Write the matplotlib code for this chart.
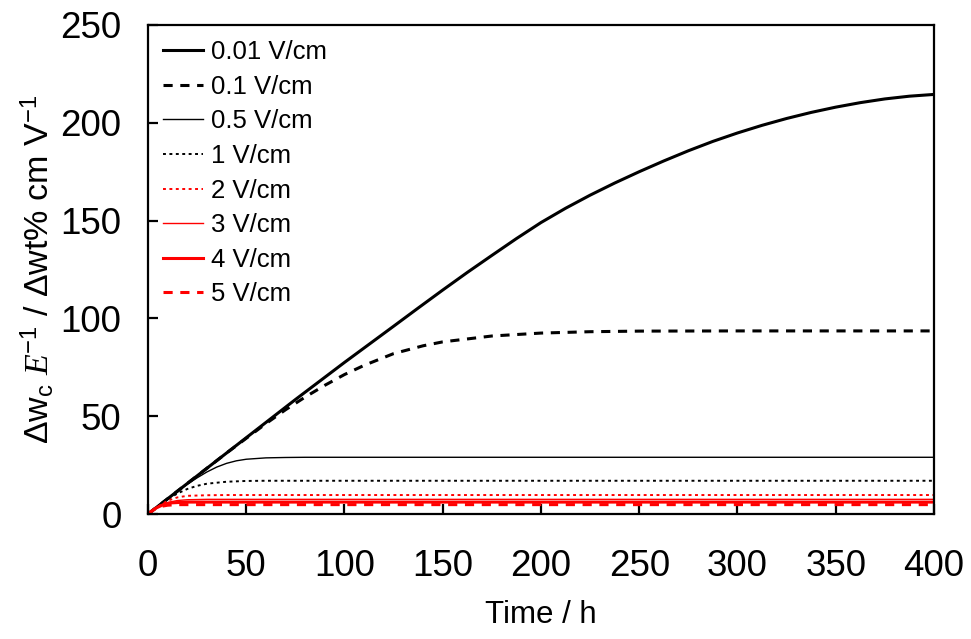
import matplotlib
matplotlib.use("Agg")
import matplotlib.pyplot as plt

# =========================
# DATA
# =========================
t_001 = [0, 25, 50, 75, 100, 125, 137.5, 150, 162.5, 175, 187.5, 200, 212.5, 225, 237.5, 250,
         262.5, 275, 287.5, 300, 312.5, 325, 337.5, 350, 362.5, 375, 387.5, 400]
w_001 = [0, 19.5, 39, 58.5, 77.5, 96, 105.3, 114.5, 123.5, 132.2, 140.8, 149, 156.3, 163, 169.2, 175,
         180.5, 185.7, 190.5, 194.8, 198.7, 202.2, 205.3, 208, 210.3, 212.2, 213.6, 214.5]

t_01 = [0, 20, 40, 60, 70, 80, 90, 100, 110, 125, 140, 150, 175, 200, 225, 250, 300, 350, 400]
w_01 = [0, 15.6, 31.2, 46.2, 53.3, 59.8, 65.8, 71.3, 76, 82, 86, 88, 91, 92.5, 93.2, 93.5, 93.6, 93.6, 93.6]

t_05 = [0, 5, 10, 15, 20, 25, 30, 35, 40, 45, 50, 60, 70, 80, 100, 400]
w_05 = [0, 3.9, 7.8, 11.6, 15.2, 18.5, 21.5, 24, 25.9, 27.2, 28, 28.7, 28.9, 29, 29, 29]

t_1 = [0, 5, 10, 15, 20, 25, 30, 40, 50, 60, 400]
w_1 = [0, 3.9, 7.5, 10.5, 12.8, 14.4, 15.5, 16.5, 16.9, 17, 17]

t_2 = [0, 5, 10, 15, 20, 30, 40, 400]
w_2 = [0, 3.8, 6.8, 8.5, 9.3, 9.6, 9.7, 9.7]

t_3 = [0, 5, 10, 15, 20, 30, 400]
w_3 = [0, 3.6, 5.9, 6.9, 7.3, 7.5, 7.5]

t_4 = [0, 4, 8, 12, 20, 400]
w_4 = [0, 3.0, 4.9, 5.7, 6.1, 6.1]

t_5 = [0, 3, 6, 10, 15, 400]
w_5 = [0, 2.3, 3.8, 4.5, 4.8, 4.8]

labels = ["0.01 V/cm", "0.1 V/cm", "0.5 V/cm", "1 V/cm",
          "2 V/cm", "3 V/cm", "4 V/cm", "5 V/cm"]

# =========================
# STYLE
# =========================
plt.rcParams["font.family"] = ["Liberation Sans", "DejaVu Sans"]
plt.rcParams["mathtext.fontset"] = "custom"
plt.rcParams["mathtext.rm"] = "Liberation Sans"
plt.rcParams["mathtext.sf"] = "Liberation Sans"
plt.rcParams["mathtext.it"] = "Liberation Serif:italic"

fig = plt.figure(figsize=(9.71, 6.39), dpi=100)
ax = fig.add_axes([0.1524, 0.1956, 0.8095, 0.7653])

RED = "#ff0000"
series = [
    (t_001, w_001, dict(color="black", lw=2.2, ls="-")),
    (t_01, w_01, dict(color="black", lw=2.2, ls=(0, (3, 2.5)))),
    (t_05, w_05, dict(color="black", lw=1.0, ls="-")),
    (t_1, w_1, dict(color="black", lw=1.4, ls=(0, (1.5, 1.8)))),
    (t_2, w_2, dict(color=RED, lw=1.4, ls=(0, (1.5, 1.8)))),
    (t_3, w_3, dict(color=RED, lw=1.0, ls="-")),
    (t_4, w_4, dict(color=RED, lw=2.2, ls="-")),
    (t_5, w_5, dict(color=RED, lw=2.2, ls=(0, (3, 2.5)))),
]

for (t, w, st), lab in zip(series, labels):
    ax.plot(t, w, label=lab, **st)

ax.set_xlim(0, 400)
ax.set_ylim(0, 250)
ax.set_xticks(range(0, 401, 50))
ax.set_yticks(range(0, 251, 50))

for s in ax.spines.values():
    s.set_linewidth(1.6)
ax.tick_params(direction="in", length=7, width=1.6, labelsize=26.5)
ax.tick_params(axis="x", pad=25)
ax.tick_params(axis="y", pad=19)

ax.set_xlabel("Time / h", fontsize=22.5, labelpad=12)
ax.set_ylabel(r"$\Delta$w$_\mathregular{c}$ $\mathit{E}$$^{\mathregular{-1}}$ / $\Delta$wt% cm V$^{\mathregular{-1}}$",
              fontsize=24.5, labelpad=3)

leg = ax.legend(loc="upper left", frameon=False, fontsize=18.5, handlelength=1.56,
                handletextpad=0.31, labelspacing=0.41, borderaxespad=0.2)

fig.savefig("out.png", dpi=100)
